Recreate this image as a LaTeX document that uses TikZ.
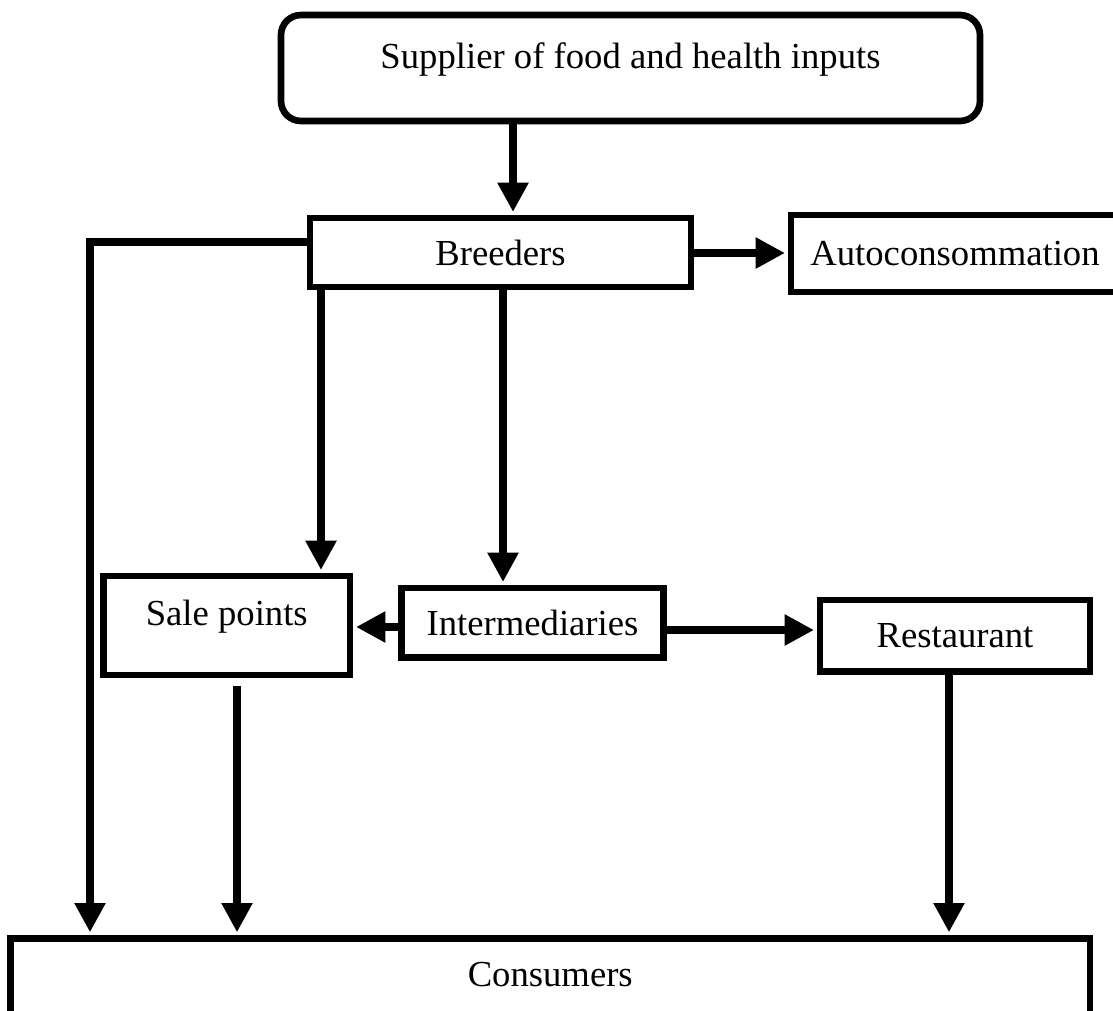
\documentclass[tikz,border=0pt]{standalone}
\usepackage{fontspec}
\setmainfont{Liberation Serif}
\usetikzlibrary{arrows.meta}

\tikzset{every picture/.style={line width=0.75pt}}
\tikzset{
  box/.style={draw, line width=5pt, inner sep=0pt, align=center, font=\fontsize{27.5}{33}\selectfont},
  flow/.style={line width=6.5pt, shorten >=2pt, -{Triangle[length=22pt,width=22pt]}},
}

\begin{document}
\begin{tikzpicture}[x=0.75pt,y=0.75pt,yscale=-1]
\path[use as bounding box] (0,0) rectangle (1113,1010);
\clip (0,0) rectangle (1113,1010);

% Text Node
\node[box, rounded corners=15pt, minimum width=524.25pt, text height=39.75pt, text depth=39.75pt] (sup) at (630.5,68) {Supplier of food and health inputs};
% Text Node
\node[box, minimum width=285.75pt, minimum height=51.75pt] (brd) at (500.5,252.5) {Breeders};
% Text Node
\node[box, minimum width=246pt, minimum height=57.75pt] (auto) at (955,253.5) {Autoconsommation};
% Text Node
\node[box, minimum width=184.9pt, text height=37.1pt, text depth=37.1pt] (sale) at (226.75,625.5) {Sale points};
% Text Node
\node[box, minimum width=196.5pt, minimum height=52.1pt] (inter) at (532.5,622.75) {Intermediaries};
% Text Node
\node[box, minimum width=202.5pt, minimum height=53.6pt] (rest) at (955,635.75) {Restaurant};
% Text Node
\node[box, anchor=north, minimum width=809.6pt, text height=36pt, text depth=39pt] (cons) at (550.25,935) {Consumers};

\coordinate (salefoot) at (237,686);

%Straight Lines
\draw[flow] (sup.south -| 513,0) -- (brd.north -| 513,0);
%Straight Lines
\draw[flow] (brd.east |- 0,253) -- (auto.west |- 0,253);
%Straight Lines
\draw[flow] (brd.west |- 0,242) -| (cons.north -| 90,0);
%Straight Lines
\draw[flow] (brd.south -| 321,0) -- (sale.north -| 321,0);
%Straight Lines
\draw[flow] (brd.south -| 503,0) -- (inter.north -| 503,0);
%Straight Lines
\draw[flow] (inter.west |- 0,627) -- (sale.east |- 0,627);
%Straight Lines
\draw[flow] (inter.east |- 0,630) -- (rest.west |- 0,630);
%Straight Lines
\draw[flow] (salefoot) -- (cons.north -| salefoot);
%Straight Lines
\draw[flow] (rest.south -| 949,0) -- (cons.north -| 949,0);

\end{tikzpicture}
\end{document}
